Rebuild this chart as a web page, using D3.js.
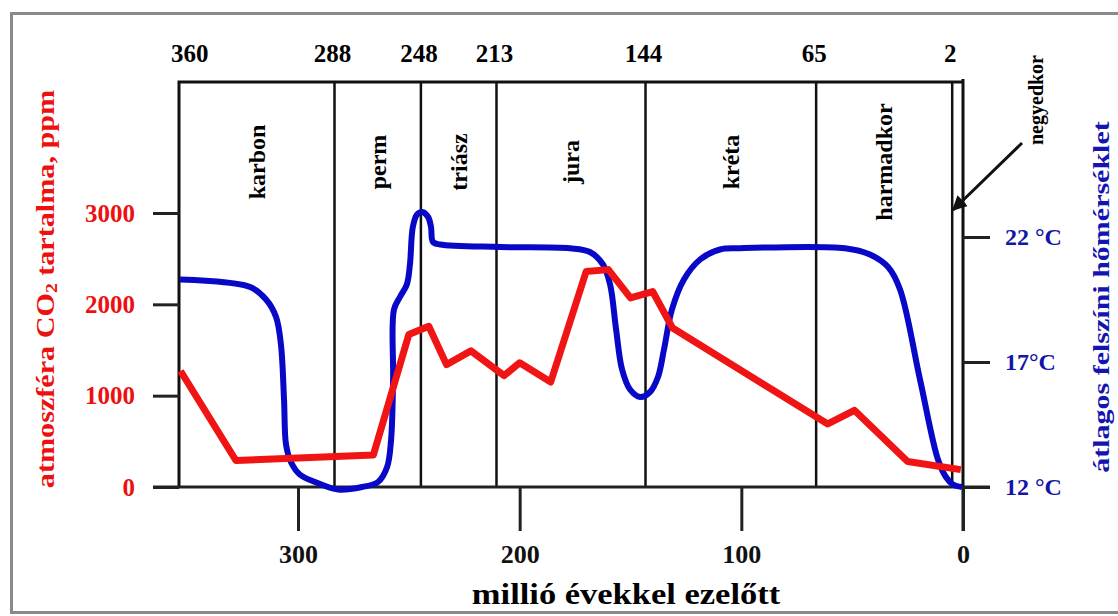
<!DOCTYPE html>
<html lang="hu">
<head>
<meta charset="UTF-8">
<script src="https://d3js.org/d3.v7.min.js"></script>
<style>
  body { margin: 0; background: #fff; }
  text { font-family: "Liberation Serif", "Times New Roman", serif; font-weight: bold; }
  .tick line { stroke: #222; stroke-width: 3px; }
</style>
</head>
<body>
<svg id="chart"></svg>
<script>
// földtörténeti korok határai (millió éve) és nevük
const boundaries = [360, 288, 248, 213, 144, 65, 2];
const periods = ["karbon", "perm", "triász", "jura", "kréta", "harmadkor", "negyedkor"];

// tengelyek
const ageTicks = [300, 200, 100, 0];
const co2Ticks = [0, 1000, 2000, 3000];
const tempTicks = [12, 17, 22];
const tempTickLabels = ["12 °C", "17°C", "22 °C"];

// CO2 görbe (millió éve, ppm)
const co2Age = [353, 328, 266, 250, 241, 233, 222, 207, 200, 186, 170, 160, 150, 140, 131, 61, 49, 25, 1];
const co2Ppm = [1270, 290, 350, 1670, 1760, 1340, 1490, 1220, 1360, 1150, 2360, 2380, 2070, 2140, 1740, 690, 840, 280, 190];

// hőmérséklet görbe (millió éve, °C)
const tempAge = [353.2, 321.6, 314.4, 309.9, 307.7, 306.3, 305.4, 303.2, 299.2, 292.3, 281.9, 271.1, 263.9, 259.8,
                 258.0, 257.1, 256.7, 254.0, 250.9, 249.5, 248.2, 246.3, 244.0, 241.3, 240.0, 239.1, 235.9, 208.9,
                 177.3, 168.3, 162.4, 159.2, 156.5, 153.8, 150.2, 145.7, 141.2, 137.6, 134.9, 131.3, 125.9, 118.6,
                 109.6, 100.6, 53.2, 42.0, 33.8, 28.4, 19.4, 11.3, 7.7, 4.5, 0.5];
const tempC = [20.3, 20.0, 19.5, 18.8, 17.7, 15.5, 13.7, 13.0, 12.5, 12.2, 11.9, 12.0, 12.2, 12.8,
               13.9, 16.3, 19.1, 19.6, 20.1, 20.9, 22.4, 22.9, 23.0, 22.8, 22.4, 21.8, 21.7, 21.6,
               21.55, 21.4, 20.9, 20.1, 18.3, 16.7, 15.9, 15.6, 15.8, 16.4, 17.5, 19.1, 20.3, 21.1,
               21.5, 21.55, 21.55, 21.3, 20.8, 19.9, 16.3, 13.1, 12.4, 12.1, 12.0];

const width = 1118, height = 616;
const plotL = 179, plotR = 963, plotT = 82, plotB = 487;

const svg = d3.select("#chart").attr("width", width).attr("height", height);

// keret
svg.append("rect")
  .attr("x", 11.5).attr("y", 13.5).attr("width", 1120).attr("height", 599)
  .attr("fill", "none").attr("stroke", "#8a8a8a").attr("stroke-width", 3);

const xTop = d3.scaleLinear().domain([360, -3]).range([plotL, plotR]);
const xAge = d3.scaleLinear().domain([300, 0]).range([298, plotR]);
const yCO2 = d3.scaleLinear().domain([0, 3000]).range([plotB, 213]);
const yTemp = d3.scaleLinear().domain([12, 22]).range([plotB, 237]);

// korhatár vonalak
svg.append("g").selectAll("line")
  .data(boundaries.slice(1))
  .enter().append("line")
  .attr("x1", d => xTop(d)).attr("x2", d => xTop(d))
  .attr("y1", plotT).attr("y2", plotB)
  .attr("stroke", "#111").attr("stroke-width", 2.5);

// doboz
svg.append("path")
  .attr("d", `M${plotL},${plotB}V${plotT}H${plotR}`)
  .attr("fill", "none").attr("stroke", "#111").attr("stroke-width", 3);
svg.append("line")
  .attr("x1", plotR).attr("x2", plotR).attr("y1", plotT - 3).attr("y2", plotB + 44)
  .attr("stroke", "#111").attr("stroke-width", 3);
svg.append("line")
  .attr("x1", plotL - 26).attr("x2", plotR + 27).attr("y1", plotB).attr("y2", plotB)
  .attr("stroke", "#222").attr("stroke-width", 3);

// felső korhatár feliratok
svg.append("g").selectAll("text")
  .data(boundaries)
  .enter().append("text")
  .attr("x", (d, i) => i === 0 ? xTop(d) - 8 : xTop(d) - 2)
  .attr("y", 62)
  .attr("text-anchor", (d, i) => i === 0 ? "start" : "middle")
  .attr("font-size", 25)
  .text(d => d);

// kor nevek
const mids = periods.map((p, i) => ({
  name: p,
  x: i < periods.length - 1 ? (xTop(boundaries[i]) + xTop(boundaries[i + 1])) / 2 : 1036
}));
svg.append("g").selectAll("text")
  .data(mids)
  .enter().append("text")
  .attr("transform", (d, i) => `translate(${d.x},${i < periods.length - 1 ? 162 : 100}) rotate(-90)`)
  .attr("text-anchor", "middle")
  .attr("dominant-baseline", "central")
  .attr("font-size", (d, i) => i < periods.length - 1 ? 24 : 20)
  .text(d => d.name);

// nyíl a negyedkorhoz
svg.append("defs").append("marker")
  .attr("id", "arr").attr("viewBox", "0 0 10 10").attr("refX", 9).attr("refY", 5)
  .attr("markerWidth", 5).attr("markerHeight", 5).attr("orient", "auto")
  .append("path").attr("d", "M0,0L10,5L0,10z").attr("fill", "#111");
svg.append("line")
  .attr("x1", 1022).attr("y1", 143).attr("x2", 953).attr("y2", 210)
  .attr("stroke", "#111").attr("stroke-width", 3).attr("marker-end", "url(#arr)");

// tengelyek
const leftAxis = svg.append("g")
  .attr("transform", `translate(${plotL},0)`)
  .call(d3.axisLeft(yCO2).tickValues(co2Ticks).tickSize(26).tickPadding(18).tickFormat(d3.format("d")));
leftAxis.select(".domain").remove();
leftAxis.selectAll("text").attr("fill", "#ee0f0f").attr("font-size", 25).attr("font-family", null);

const rightAxis = svg.append("g")
  .attr("transform", `translate(${plotR},0)`)
  .call(d3.axisRight(yTemp).tickValues(tempTicks).tickSize(27).tickPadding(15)
    .tickFormat((d, i) => tempTickLabels[i]));
rightAxis.select(".domain").remove();
rightAxis.selectAll("text").attr("fill", "#1414a8").attr("font-size", 24).attr("font-family", null);

const bottomAxis = svg.append("g")
  .attr("transform", `translate(0,${plotB})`)
  .call(d3.axisBottom(xAge).tickValues(ageTicks).tickSize(44).tickPadding(14));
bottomAxis.select(".domain").remove();
bottomAxis.selectAll("text").attr("fill", "#111").attr("font-size", 26).attr("font-family", null);

// görbék
const tempLine = d3.line()
  .x((d, i) => xAge(tempAge[i]))
  .y(d => yTemp(d))
  .curve(d3.curveCatmullRom.alpha(0.5));
svg.append("path")
  .attr("d", tempLine(tempC))
  .attr("fill", "none").attr("stroke", "#0808c8").attr("stroke-width", 6)
  .attr("stroke-linejoin", "round");

const co2Line = d3.line()
  .x((d, i) => xAge(co2Age[i]))
  .y(d => yCO2(d));
svg.append("path")
  .attr("d", co2Line(co2Ppm))
  .attr("fill", "none").attr("stroke", "#f01414").attr("stroke-width", 7)
  .attr("stroke-linejoin", "round");

// tengelycímek
const lt = svg.append("text")
  .attr("transform", "translate(45,289) rotate(-90) scale(1.16,1)")
  .attr("text-anchor", "middle").attr("dominant-baseline", "central")
  .attr("fill", "#ee0f0f").attr("font-size", 26);
lt.append("tspan").text("atmoszféra CO");
lt.append("tspan").attr("font-size", 17).attr("dy", 6).text("2");
lt.append("tspan").attr("dy", -6).text(" tartalma, ppm");

svg.append("text")
  .attr("transform", "translate(1101,297) rotate(-90) scale(1.25,1)")
  .attr("text-anchor", "middle").attr("dominant-baseline", "central")
  .attr("fill", "#1414b0").attr("font-size", 24)
  .text("átlagos felszíni hőmérséklet");

svg.append("text")
  .attr("transform", "translate(626,604) scale(1.15,1)")
  .attr("text-anchor", "middle")
  .attr("font-size", 30)
  .text("millió évekkel ezelőtt");
</script>
</body>
</html>
